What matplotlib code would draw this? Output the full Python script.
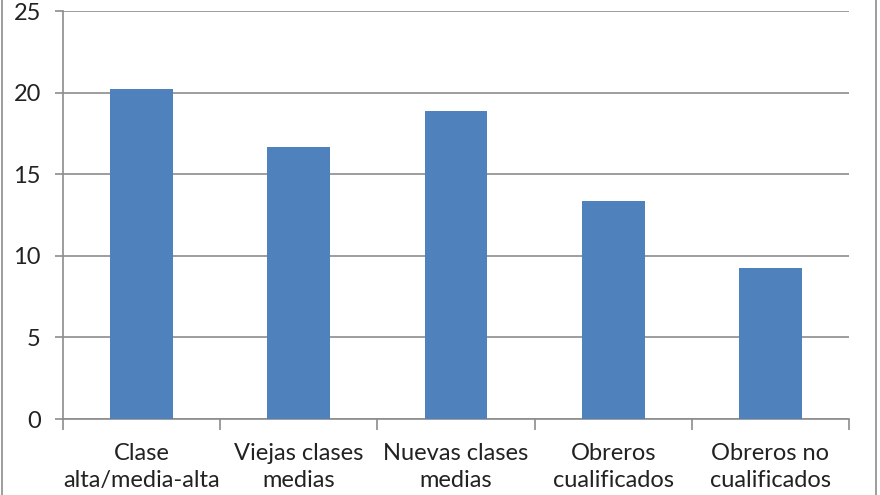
import matplotlib
matplotlib.use("Agg")
import matplotlib.pyplot as plt
from matplotlib.patches import Rectangle

categorias = ["Clase\nalta/media-alta", "Viejas clases\nmedias", "Nuevas clases\nmedias",
              "Obreros\ncualificados", "Obreros no\ncualificados"]
valores = [20.2, 16.65, 18.85, 13.35, 9.25]
yticks = [0, 5, 10, 15, 20, 25]

plt.rcParams['font.family'] = ['Lato', 'DejaVu Sans']

fig = plt.figure(figsize=(8.8, 4.95), dpi=100)
ax = fig.add_axes([63 / 880, 76 / 495, (849 - 63) / 880, (419 - 11) / 495])

x = range(len(categorias))
ax.bar(x, valores, width=0.4, color='#4F81BD', zorder=3)

ax.set_xlim(-0.5, len(categorias) - 0.5)
ax.set_ylim(0, 25)
ax.set_yticks(yticks)
ax.yaxis.grid(True, color='#8c8c8c', linewidth=1.2, zorder=0)

ax.set_xticks(list(x))
ax.set_xticklabels(categorias, fontsize=17, linespacing=1.4, color='#222222')
ax.tick_params(axis='x', length=0, pad=17)
ax.set_xticks([i - 0.5 for i in range(len(categorias) + 1)], minor=True)
ax.tick_params(axis='x', which='minor', length=8, width=1.2, color='#8c8c8c', direction='out')
ax.tick_params(axis='y', labelsize=17, labelcolor='#222222', length=6, width=1.2,
               color='#8c8c8c', pad=10)

for s in ['top', 'right']:
    ax.spines[s].set_visible(False)
for s in ['left', 'bottom']:
    ax.spines[s].set_color('#8c8c8c')
    ax.spines[s].set_linewidth(1.2)

fig.patches.append(Rectangle((2 / 880, -0.01), 874 / 880, 1.1, transform=fig.transFigure,
                             fill=False, edgecolor='#8c8c8c', linewidth=1.2))

fig.savefig("out.png", dpi=100)
